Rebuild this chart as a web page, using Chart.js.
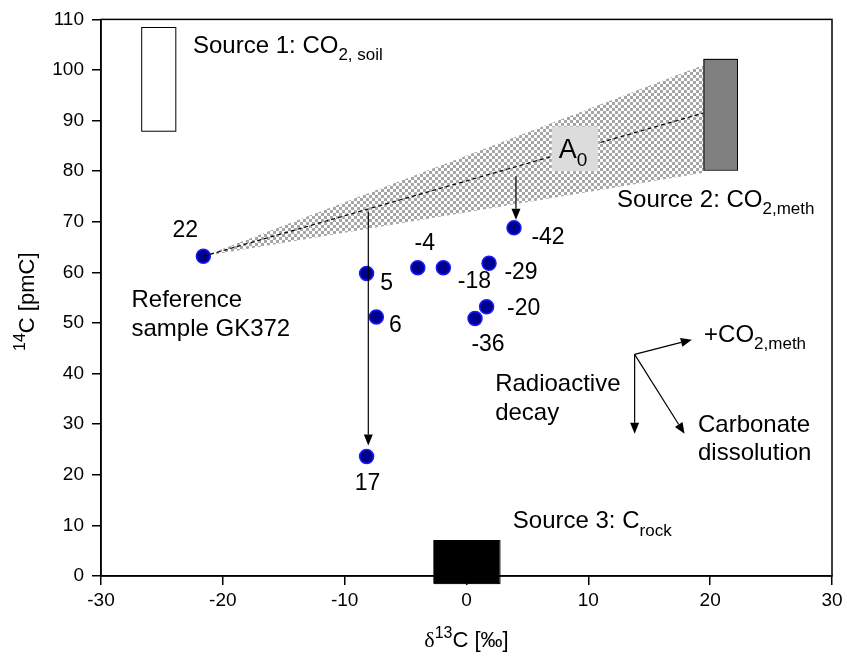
<!DOCTYPE html>
<html>
<head>
<meta charset="utf-8">
<script src="https://cdn.jsdelivr.net/npm/chart.js@4.4.0/dist/chart.umd.min.js"></script>
<style>
  html, body { margin: 0; background: #fff; }
  #wrap { width: 847px; height: 657px; }
</style>
</head>
<body>
<div id="wrap"><canvas id="isoChart"></canvas></div>
<script>
// groundwater samples: label, d13C (permil), 14C (pmC)
const sampleNames = ["22", "5", "6", "-4", "-18", "-29", "-20", "-36", "-42", "17"];
const sampleD13C = [-21.6, -8.2, -7.4, -4.0, -1.9, 1.85, 1.65, 0.7, 3.9, -8.2];
const sample14C = [63.2, 59.8, 51.2, 60.9, 60.9, 61.8, 53.2, 50.9, 68.8, 23.6];
// where each sample name sits relative to its dot (px)
const nameOffsets = [[-18, -26], [20, 10], [19, 9], [7, -24], [31, 14], [32, 9], [37, 2], [13, 26], [34, 10], [1, 27]];

// source end members as [x1, x2, y1, y2]
const soilBox = [-26.7, -23.9, 88.0, 108.5];
const methBox = [19.45, 22.2, 80.3, 102.2];
const rockBox = [-2.7, 2.7, -1.4, 7.1];
const a0Box = [7.0, 10.8, 80.0, 88.8];

// mixing cone between reference sample and methanogenic CO2
const coneX = [-21.6, 19.45, 19.45];
const coneY = [63.2, 101.0, 79.7];
const mixLineX = [-21.6, 19.45];
const mixLineY = [63.2, 91.5];

// process arrows [x0, y0, x1, y1]
const arrows = [
  [-8.06, 72.0, -8.06, 25.8],
  [4.06, 79.0, 4.06, 70.4],
  [13.8, 43.8, 18.5, 46.7],
  [13.8, 43.8, 13.8, 28.1],
  [13.8, 43.8, 17.9, 28.1]
];

const FONT = "'Liberation Sans', Arial, Helvetica, sans-serif";
const TXT = 24;

function checker() {
  const c = document.createElement("canvas");
  c.width = 6; c.height = 6;
  const g = c.getContext("2d");
  g.fillStyle = "#a6a6a6";
  g.fillRect(0, 0, 3, 3);
  g.fillRect(3, 3, 3, 3);
  return g.createPattern(c, "repeat");
}

// text with subscript / superscript runs
function richText(ctx, x, y, parts, size, align) {
  let w = 0;
  parts.forEach(p => {
    const s = p.sub || p.sup ? Math.round(size * 0.72) : size;
    ctx.font = s + "px " + (p.serif ? "'Liberation Serif', serif" : FONT);
    p._w = ctx.measureText(p.t).width;
    p._s = s;
    w += p._w;
  });
  let cx = align === "center" ? x - w / 2 : x;
  ctx.textAlign = "left";
  ctx.textBaseline = "alphabetic";
  parts.forEach(p => {
    ctx.font = p._s + "px " + (p.serif ? "'Liberation Serif', serif" : FONT);
    let dy = 0;
    if (p.sub) dy = size * 0.3;
    if (p.sup) dy = -size * 0.4;
    ctx.fillText(p.t, cx, y + dy);
    cx += p._w;
  });
}

const annotations = [
  { x: -22.45, y: 104.9, parts: [{ t: "Source 1: CO" }, { t: "2, soil", sub: true }] },
  { x: 12.36, y: 74.6, parts: [{ t: "Source 2: CO" }, { t: "2,meth", sub: true }] },
  { x: 3.8, y: 11.0, parts: [{ t: "Source 3: C" }, { t: "rock", sub: true }] },
  { x: 19.5, y: 47.8, parts: [{ t: "+CO" }, { t: "2,meth", sub: true }] },
  { x: 2.35, y: 38.1, parts: [{ t: "Radioactive" }] },
  { x: 2.35, y: 32.5, parts: [{ t: "decay" }] },
  { x: 19.0, y: 30.0, parts: [{ t: "Carbonate" }] },
  { x: 19.0, y: 24.5, parts: [{ t: "dissolution" }] },
  { x: -27.5, y: 54.7, parts: [{ t: "Reference" }] },
  { x: -27.5, y: 49.0, parts: [{ t: "sample GK372" }] }
];

const drawings = {
  id: "drawings",
  beforeDatasetsDraw(chart) {
    const { ctx, scales: { x, y } } = chart;
    const px = v => x.getPixelForValue(v), py = v => y.getPixelForValue(v);
    ctx.save();
    // cone
    ctx.beginPath();
    coneX.forEach((v, i) => i ? ctx.lineTo(px(v), py(coneY[i])) : ctx.moveTo(px(v), py(coneY[i])));
    ctx.closePath();
    ctx.fillStyle = checker();
    ctx.fill();
    // boxes
    const box = (b, fill) => {
      const x0 = px(b[0]), x1 = px(b[1]), y0 = py(b[3]), y1 = py(b[2]);
      ctx.fillStyle = fill;
      ctx.fillRect(x0, y0, x1 - x0, y1 - y0);
      ctx.strokeStyle = "#000";
      ctx.lineWidth = 1;
      ctx.strokeRect(x0 + 0.5, y0 + 0.5, x1 - x0, y1 - y0);
    };
    box(soilBox, "#fff");
    box(methBox, "#808080");
    box(rockBox, "#000");
    ctx.restore();
  },
  afterDatasetsDraw(chart) {
    const { ctx, scales: { x, y }, chartArea: a } = chart;
    const px = v => x.getPixelForValue(v), py = v => y.getPixelForValue(v);
    ctx.save();
    // A0 label sits over the mixing line
    const ax0 = px(a0Box[0]), ax1 = px(a0Box[1]), ay0 = py(a0Box[3]), ay1 = py(a0Box[2]);
    ctx.fillStyle = "#dcdcdc";
    ctx.fillRect(ax0, ay0, ax1 - ax0, ay1 - ay0);
    ctx.fillStyle = "#000";
    richText(ctx, (ax0 + ax1) / 2 - 2, (ay0 + ay1) / 2 + 9, [{ t: "A" }, { t: "0", sub: true }], 27, "center");
    // arrows
    ctx.strokeStyle = "#000";
    ctx.fillStyle = "#000";
    ctx.lineWidth = 1.2;
    arrows.forEach(ar => {
      const x0 = px(ar[0]), y0 = py(ar[1]), x1 = px(ar[2]), y1 = py(ar[3]);
      const ang = Math.atan2(y1 - y0, x1 - x0);
      const hl = 11, hw = 4.5;
      ctx.beginPath();
      ctx.moveTo(x0, y0);
      ctx.lineTo(x1 - hl * Math.cos(ang), y1 - hl * Math.sin(ang));
      ctx.stroke();
      ctx.beginPath();
      ctx.moveTo(x1, y1);
      ctx.lineTo(x1 - hl * Math.cos(ang) - hw * Math.sin(ang), y1 - hl * Math.sin(ang) + hw * Math.cos(ang));
      ctx.lineTo(x1 - hl * Math.cos(ang) + hw * Math.sin(ang), y1 - hl * Math.sin(ang) - hw * Math.cos(ang));
      ctx.closePath();
      ctx.fill();
    });
    // sample names
    ctx.font = "23px " + FONT;
    ctx.textAlign = "center";
    ctx.textBaseline = "middle";
    sampleNames.forEach((n, i) => {
      ctx.fillText(n, px(sampleD13C[i]) + nameOffsets[i][0], py(sample14C[i]) + nameOffsets[i][1]);
    });
    // notes
    annotations.forEach(an => richText(ctx, px(an.x), py(an.y) + 8, an.parts, TXT, "left"));
    // frame
    ctx.strokeStyle = "#000";
    ctx.lineWidth = 1.5;
    ctx.strokeRect(a.left, a.top, a.right - a.left, a.bottom - a.top);
    // axis titles
    richText(ctx, (a.left + a.right) / 2, 647, [{ t: "δ", serif: true }, { t: "13", sup: true }, { t: "C [‰]" }], 22, "center");
    ctx.translate(34, (a.top + a.bottom) / 2 + 4);
    ctx.rotate(-Math.PI / 2);
    richText(ctx, 0, 0, [{ t: "14", sup: true }, { t: "C [pmC]" }], 22, "center");
    ctx.restore();
  }
};

new Chart(document.getElementById("isoChart"), {
  type: "scatter",
  data: {
    datasets: [
      {
        data: mixLineX.map((v, i) => ({ x: v, y: mixLineY[i] })),
        showLine: true,
        borderColor: "#000",
        borderWidth: 1.2,
        borderDash: [4, 3],
        pointRadius: 0
      },
      {
        data: sampleD13C.map((v, i) => ({ x: v, y: sample14C[i] })),
        pointRadius: 7,
        pointBackgroundColor: "#00008f",
        pointBorderColor: "#1a1aff",
        pointBorderWidth: 1.5
      }
    ]
  },
  options: {
    responsive: true,
    maintainAspectRatio: false,
    animation: false,
    layout: { padding: { top: 17, right: 15, left: 0, bottom: 0 } },
    plugins: { legend: { display: false }, tooltip: { enabled: false } },
    scales: {
      x: {
        min: -30, max: 30,
        ticks: { stepSize: 10, color: "#000", font: { family: FONT, size: 19 }, padding: 4, maxRotation: 0 },
        grid: { drawOnChartArea: false, tickLength: 9, color: "#000", lineWidth: 1.5 },
        border: { color: "#000", width: 1.5 },
        afterFit: s => { s.height = 81; }
      },
      y: {
        min: 0, max: 110,
        ticks: { stepSize: 10, color: "#000", font: { family: FONT, size: 19 }, padding: 8 },
        grid: { drawOnChartArea: false, tickLength: 9, color: "#000", lineWidth: 1.5 },
        border: { color: "#000", width: 1.5 },
        afterFit: s => { s.width = 101; }
      }
    }
  },
  plugins: [drawings]
});
</script>
</body>
</html>
